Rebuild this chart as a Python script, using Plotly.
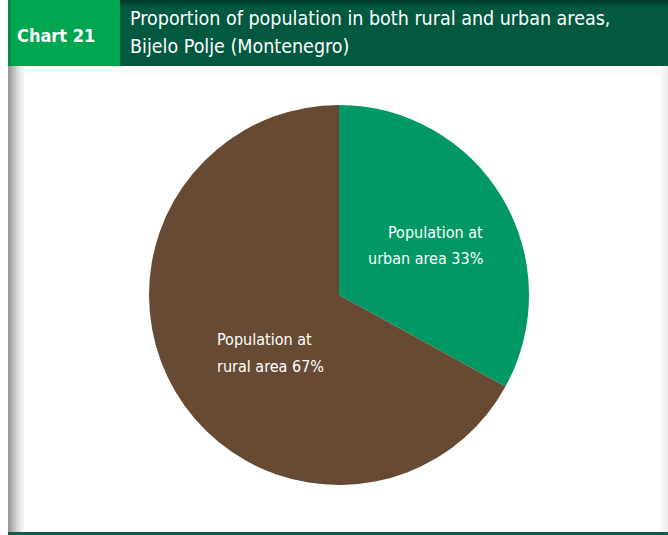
import plotly.graph_objects as go

# Data
categories = ["urban", "rural"]
shares = [33, 67]
slice_colors = ["#009965", "#664A33"]
chart_number = "Chart 21"
title_lines = ["Proportion of population in both rural and urban areas,",
               "Bijelo Polje (Montenegro)"]

W, H = 668, 535
FONT = "DejaVu Sans Condensed, Roboto, sans-serif"


def px(x):
    return x / W


def py(y):
    return 1 - y / H


fig = go.Figure()

# Pie placed by its domain: centre (339, 295) px, radius 190 px
cx, cy, r = 339, 295, 190
fig.add_trace(go.Pie(
    labels=categories,
    values=shares,
    sort=False,
    direction="clockwise",
    rotation=0,
    marker=dict(colors=slice_colors, line=dict(width=0)),
    textinfo="none",
    hoverinfo="label+percent",
    showlegend=False,
    domain=dict(x=[px(cx - r), px(cx + r)], y=[py(cy + r), py(cy - r)]),
))

shapes = []


def rect(x0, x1, y0, y1, color, layer="above"):
    shapes.append(dict(type="rect", xref="paper", yref="paper", x0=px(x0), x1=px(x1),
                       y0=py(y1), y1=py(y0), fillcolor=color, line=dict(width=0),
                       layer=layer))


# Panel background and soft shadows on the sides
rect(8, 668, 66, 533, "white", "below")
left_steps = ["#9a9a9a", "#a8a8a8", "#b8b8b8", "#c8c8c8",
              "#d6d6d6", "#e2e2e2", "#ececec", "#f4f4f4"]
for i, c in enumerate(left_steps):
    rect(8 + 2 * i, 10 + 2 * i, 66, 533, c, "below")
for i, c in enumerate(["#f8f8f8", "#f1f1f1", "#ececec"]):
    rect(660 + 3 * i, 663 + 3 * i, 66, 533, c, "below")
rect(25, 660, 66, 75, "#fafafa", "below")

# Header: bright green number box, dark green title band
rect(8, 120, 0, 66, "#00A650")
rect(8, 11, 0, 66, "#068c47")
rect(120, 668, 0, 66, "#035840")
rect(120, 668, 0, 3, "#013f2e")
rect(120, 668, 3, 6, "#024b37")

# Bottom rule
rect(8, 668, 532, 535, "#0b5e48")

annotations = [
    dict(text=f"<b>{chart_number}</b>", x=px(15), y=py(35), xref="paper", yref="paper",
         xanchor="left", yanchor="middle", showarrow=False,
         font=dict(family=FONT, size=18, color="white")),
]
for i, line in enumerate(title_lines):
    annotations.append(dict(text=line, x=px(128), y=py(19 + 28 * i), xref="paper",
                            yref="paper", xanchor="left", yanchor="middle", showarrow=False,
                            font=dict(family=FONT, size=19.5, color="white")))

# Slice labels, two lines each
urban_lines = ["Population at", f"{categories[0]} area {shares[0]}%"]
rural_lines = ["Population at", f"{categories[1]} area {shares[1]}%"]
for i, line in enumerate(urban_lines):
    annotations.append(dict(text=line, x=px(485), y=py(232 + 26 * i), xref="paper",
                            yref="paper", xanchor="right", yanchor="middle", showarrow=False,
                            font=dict(family=FONT, size=16, color="white")))
for i, line in enumerate(rural_lines):
    annotations.append(dict(text=line, x=px(215), y=py(339 + 27 * i), xref="paper",
                            yref="paper", xanchor="left", yanchor="middle", showarrow=False,
                            font=dict(family=FONT, size=16, color="white")))

fig.update_layout(
    width=W, height=H,
    margin=dict(l=0, r=0, t=0, b=0),
    paper_bgcolor="white",
    plot_bgcolor="white",
    shapes=shapes,
    annotations=annotations,
)

fig.write_html("out.html")
